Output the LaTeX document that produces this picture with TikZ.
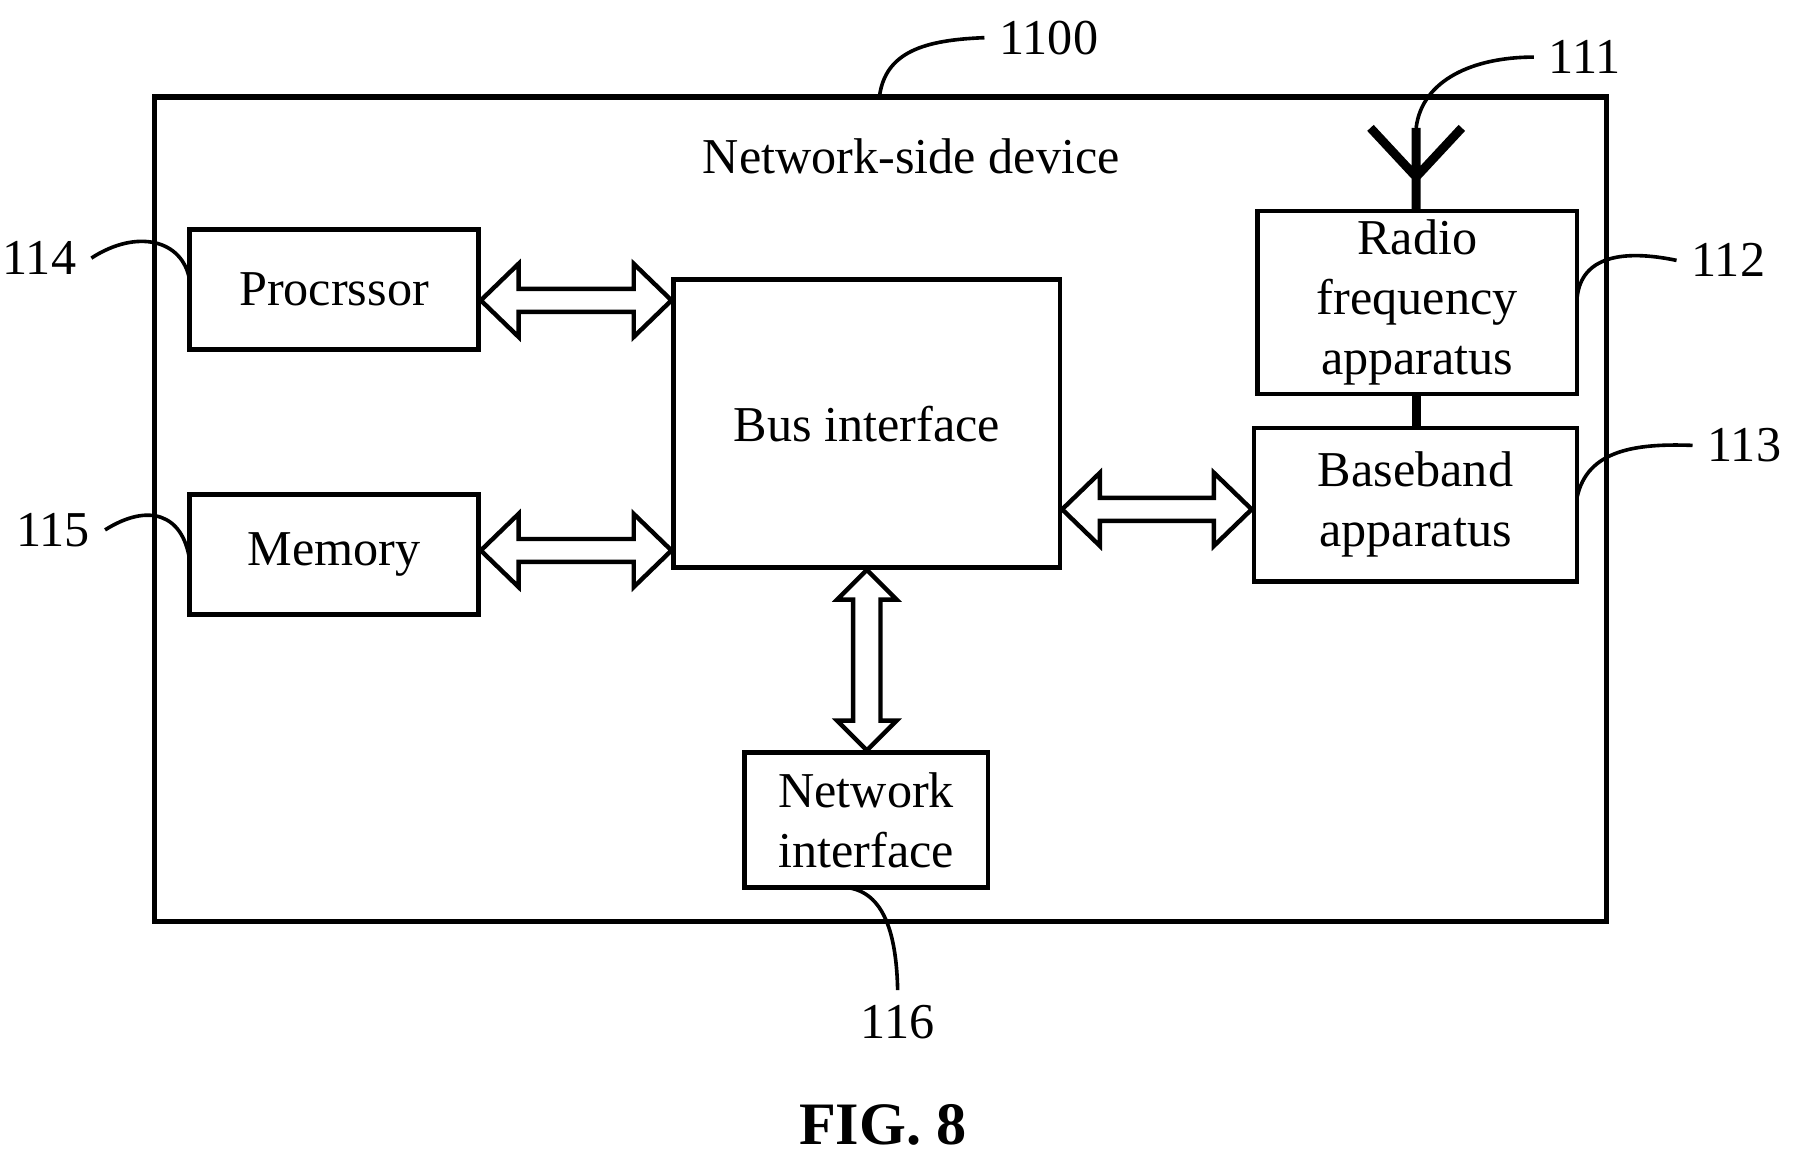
\documentclass[tikz,border=0pt]{standalone}
\usepackage{fontspec}
\setmainfont{Liberation Serif}
\usetikzlibrary{arrows.meta,calc}
\newcommand\hdbl[2]{\draw[line width=1.1pt] let \p1=(#1),\p2=(#2) in
 (\x1,\y1) -- (\x1+9.4pt,\y1+9.1pt) -- (\x1+9.4pt,\y1+2.85pt) -- (\x2-9.4pt,\y1+2.85pt) -- (\x2-9.4pt,\y1+9.1pt) -- (\x2,\y1)
 -- (\x2-9.4pt,\y1-9.1pt) -- (\x2-9.4pt,\y1-2.85pt) -- (\x1+9.4pt,\y1-2.85pt) -- (\x1+9.4pt,\y1-9.1pt) -- cycle;}
\newcommand\vdbl[2]{\draw[line width=1.1pt] let \p1=(#1),\p2=(#2) in
 (\x1,\y1) -- (\x1+7.4pt,\y1-7.4pt) -- (\x1+3.4pt,\y1-7.4pt) -- (\x1+3.4pt,\y2+7.4pt) -- (\x1+7.4pt,\y2+7.4pt) -- (\x1,\y2)
 -- (\x1-7.4pt,\y2+7.4pt) -- (\x1-3.4pt,\y2+7.4pt) -- (\x1-3.4pt,\y1-7.4pt) -- (\x1-7.4pt,\y1-7.4pt) -- cycle;}
\begin{document}
\begin{tikzpicture}[x=0.01cm,y=-0.01cm,line width=0.9pt,
  box/.style={draw,line width=1.1pt,inner sep=0,align=center,font=\fontsize{12.5}{15}\selectfont},
  lab/.style={font=\fontsize{12.5}{15}\selectfont},
  lead/.style={line width=0.9pt}]
\useasboundingbox (0,0) rectangle (1570,1022);
\draw[line width=1.3pt] (135,85) rectangle (1407,807);
\node[lab] (title) at (798,137) {Network-side device};
\node[box] (proc) at (292.5,253.5) [minimum width=2.53cm,minimum height=1.05cm] {Procrssor};
\node[box] (mem) at (292.5,485.5) [minimum width=2.53cm,minimum height=1.05cm] {Memory};
\node[box] (bus) at (759,371) [minimum width=3.38cm,minimum height=2.52cm] {Bus interface};
\node[box] (rf) at (1241,265) [minimum width=2.8cm,minimum height=1.6cm] {Radio\\frequency\\apparatus};
\node[box] (bb) at (1239.5,442) [minimum width=2.83cm,minimum height=1.34cm] {Baseband\\apparatus};
\node[box] (ni) at (758.5,718) [minimum width=2.13cm,minimum height=1.18cm] {Network\\interface};
% antenna
\coordinate (ant) at (1240,155);
\coordinate (anttop) at (1240,112);
\draw[line width=2.2pt] (rf.north -| ant) -- (anttop) (1200,112) -- (ant) -- (1280,112);
\draw[line width=2.2pt] (rf.south -| ant) -- (bb.north -| ant);
% double arrows
\hdbl{proc.east|-0,263}{bus.west|-0,263}
\hdbl{mem.east|-0,482}{bus.west|-0,482}
\hdbl{bus.east|-0,446}{bb.west|-0,446}
\vdbl{bus.south-|759,0}{ni.north-|759,0}
% labels
\node[lab,anchor=west] (l1100) at (862,33) {1100};
\draw[lead] (770,85) .. controls (775,45) and (810,35) .. (l1100.west);
\node[lab,anchor=west] (l111) at (1343,50) {111};
\draw[lead] (anttop) .. controls (1245,70) and (1290,50) .. (l111.west);
\node[lab,anchor=west] (l112) at (1468,228) {112};
\draw[lead] (1381,260) .. controls (1385,225) and (1420,218) .. (l112.west);
\node[lab,anchor=west] (l113) at (1482,390) {113};
\draw[lead] (1381,435) .. controls (1390,395) and (1430,388) .. (l113.west);
\node[lab,anchor=east] (l114) at (80,226) {114};
\draw[lead] (l114.east) .. controls (120,200) and (160,210) .. (166,245);
\node[lab,anchor=east] (l115) at (92,464) {115};
\draw[lead] (l115.east) .. controls (130,440) and (160,450) .. (166,490);
\node[lab] (l116) at (786,895) {116};
\draw[lead] (740,777) .. controls (775,780) and (785,820) .. (l116.north);
\node[font=\fontsize{15}{18}\selectfont\bfseries] (fig) at (773,985) {FIG. 8};
\end{tikzpicture}
\end{document}
